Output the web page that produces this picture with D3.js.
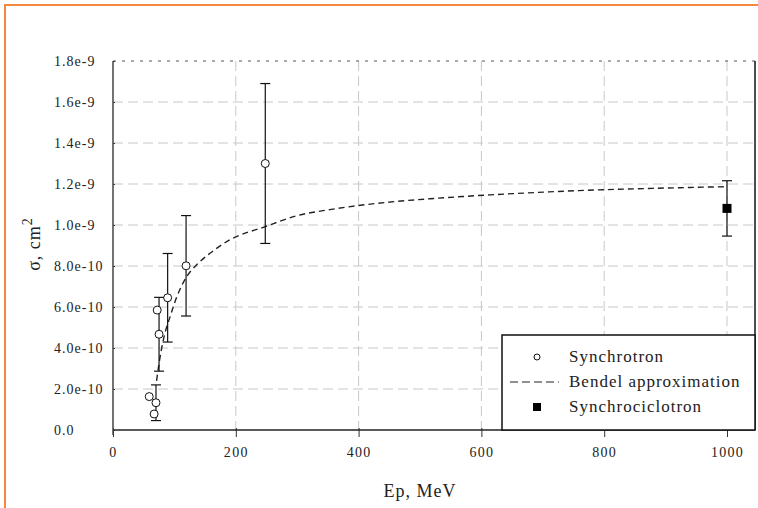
<!DOCTYPE html>
<html>
<head>
<meta charset="utf-8">
<script src="https://cdn.jsdelivr.net/npm/d3@7"></script>
<style>
	body { margin: 0; background: #fff; }
	text { font-family: "Liberation Serif", "DejaVu Serif", serif; fill: #222; }
</style>
</head>
<body>
<div id="canvas"></div>
<script>
// Synchrotron points (open circles), error = half bar height, null = no bar
const synchrotronE = [59, 67, 70, 72, 75, 89, 119, 248];
const synchrotronSigma = [1.63e-10, 0.78e-10, 1.33e-10, 5.85e-10, 4.67e-10, 6.45e-10, 8.01e-10, 1.30e-9];
const synchrotronErr = [null, null, 0.87e-10, null, 1.8e-10, 2.16e-10, 2.45e-10, 3.9e-10];

// Synchrociclotron point (filled square)
const synchrocycE = [1000];
const synchrocycSigma = [1.081e-9];
const synchrocycErr = [1.35e-10];

// Bendel approximation
const bendelE = [71, 75, 82, 93, 104, 120, 136, 158, 190, 248, 299, 353, 400, 462, 516, 570, 614, 652, 706, 798, 869, 923, 1000];
const bendelSigma = [0.24e-9, 0.325e-9, 0.44e-9, 0.553e-9, 0.65e-9, 0.748e-9, 0.805e-9, 0.862e-9, 0.927e-9, 0.992e-9, 1.045e-9, 1.075e-9, 1.095e-9, 1.115e-9, 1.128e-9, 1.139e-9, 1.147e-9, 1.153e-9, 1.161e-9, 1.172e-9, 1.178e-9, 1.182e-9, 1.187e-9];

const xTicks = [0, 200, 400, 600, 800, 1000];
const yTicks = [0, 2e-10, 4e-10, 6e-10, 8e-10, 1.0e-9, 1.2e-9, 1.4e-9, 1.6e-9, 1.8e-9];
const legendLabels = ["Synchrotron", "Bendel approximation", "Synchrociclotron"];

function drawChart() {

	// 1. Dimensions

	const width = 758;
	const height = 508;
	const left = 113, right = 755, top = 61, bottom = 430;
	const xEnd = 727;

	// 2. Canvas

	const svg = d3.select("#canvas")
		.append("svg")
		.attr("width", width)
		.attr("height", height);

	// orange page frame
	svg.append("path")
		.attr("d", `M5,${height} L5,5 L${width},5`)
		.attr("fill", "none")
		.attr("stroke", "#f5883f")
		.attr("stroke-width", 2);

	// 3. Scales

	const x = d3.scaleLinear().domain([0, 1000]).range([left, xEnd]);
	const y = d3.scaleLinear().domain([0, 1.8e-9]).range([bottom, top]);

	// 4. Grid

	const grid = svg.append("g");
	grid.selectAll(".hgrid")
		.data(yTicks.slice(1, -1))
		.enter().append("line")
		.attr("x1", left).attr("x2", right)
		.attr("y1", d => y(d)).attr("y2", d => y(d))
		.attr("stroke", "#c8c8c8")
		.attr("stroke-dasharray", "10,5");
	grid.selectAll(".vgrid")
		.data(xTicks.slice(1))
		.enter().append("line")
		.attr("y1", top).attr("y2", bottom)
		.attr("x1", d => x(d)).attr("x2", d => x(d))
		.attr("stroke", "#c8c8c8")
		.attr("stroke-dasharray", "10,5");

	// top edge at 1.8e-9 is dotted dark
	svg.append("line")
		.attr("x1", left).attr("x2", right)
		.attr("y1", y(1.8e-9)).attr("y2", y(1.8e-9))
		.attr("stroke", "#555")
		.attr("stroke-dasharray", "3,6");

	// right edge
	svg.append("line")
		.attr("x1", right).attr("x2", right)
		.attr("y1", top).attr("y2", bottom)
		.attr("stroke", "#111")
		.attr("stroke-width", 1.5);

	// 5. Axes

	const xAxis = d3.axisBottom(x)
		.tickValues(xTicks)
		.tickFormat(d3.format("d"))
		.tickSizeInner(7)
		.tickSizeOuter(0)
		.tickPadding(10);
	const gx = svg.append("g")
		.attr("transform", `translate(0,${bottom})`)
		.call(xAxis);
	gx.select(".domain").remove();
	gx.selectAll(".tick line").attr("y1", -2).attr("stroke", "#333");
	gx.selectAll(".tick text")
		.attr("font-family", "Liberation Serif")
		.attr("font-size", 14)
		.attr("letter-spacing", 1.3)
		.attr("fill", "#222");

	const yAxis = d3.axisLeft(y)
		.tickValues(yTicks)
		.tickFormat(d => d === 0 ? "0.0" : d3.format(".1e")(d))
		.tickSizeInner(6)
		.tickSizeOuter(0);
	const gy = svg.append("g")
		.attr("transform", `translate(${left},0)`)
		.call(yAxis);
	gy.select(".domain").remove();
	gy.selectAll(".tick line").attr("x2", 2).attr("stroke", "#333");
	gy.selectAll(".tick text")
		.attr("text-anchor", "start")
		.attr("x", 54 - left)
		.attr("font-family", "Liberation Serif")
		.attr("font-size", 14)
		.attr("letter-spacing", 1)
		.attr("fill", "#222");

	svg.append("line")
		.attr("x1", left).attr("x2", right)
		.attr("y1", bottom).attr("y2", bottom)
		.attr("stroke", "#222").attr("stroke-width", 1.5);
	svg.append("line")
		.attr("x1", left).attr("x2", left)
		.attr("y1", top).attr("y2", bottom + 5)
		.attr("stroke", "#444").attr("stroke-width", 1.5);

	// axis titles
	svg.append("text")
		.attr("x", (left + xEnd) / 2)
		.attr("y", 497)
		.attr("text-anchor", "middle")
		.attr("font-size", 18)
		.attr("letter-spacing", 1)
		.text("Ep, MeV");

	const yTitle = svg.append("text")
		.attr("transform", `translate(40,244) rotate(-90)`)
		.attr("text-anchor", "middle")
		.attr("font-size", 18)
		.attr("letter-spacing", 1);
	yTitle.append("tspan").text("σ, cm");
	yTitle.append("tspan").attr("dy", -8).attr("font-size", 14).text("2");

	// 6. Bendel curve

	const bendel = d3.zip(bendelE, bendelSigma);
	svg.append("path")
		.datum(bendel)
		.attr("fill", "none")
		.attr("stroke", "#222")
		.attr("stroke-width", 1.4)
		.attr("stroke-dasharray", "6,4")
		.attr("d", d3.line().x(d => x(d[0])).y(d => y(d[1])).curve(d3.curveMonotoneX));

	// 7. Error bars and points

	const errBars = (E, S, Err) => {
		const rows = E.map((e, i) => ({e, s: S[i], err: Err[i]})).filter(d => d.err != null);
		const g = svg.append("g").attr("stroke", "#111").attr("stroke-width", 1.2);
		rows.forEach(d => {
			g.append("line").attr("x1", x(d.e)).attr("x2", x(d.e))
				.attr("y1", y(d.s - d.err)).attr("y2", y(d.s + d.err));
			[d.s - d.err, d.s + d.err].forEach(v => {
				g.append("line").attr("x1", x(d.e) - 5).attr("x2", x(d.e) + 5)
					.attr("y1", y(v)).attr("y2", y(v));
			});
		});
	};
	errBars(synchrotronE, synchrotronSigma, synchrotronErr);
	errBars(synchrocycE, synchrocycSigma, synchrocycErr);

	svg.append("g")
		.selectAll("circle")
		.data(d3.zip(synchrotronE, synchrotronSigma))
		.enter().append("circle")
		.attr("cx", d => x(d[0]))
		.attr("cy", d => y(d[1]))
		.attr("r", 4)
		.attr("fill", "#fff")
		.attr("stroke", "#111")
		.attr("stroke-width", 1);

	svg.append("g")
		.selectAll("rect")
		.data(d3.zip(synchrocycE, synchrocycSigma))
		.enter().append("rect")
		.attr("x", d => x(d[0]) - 4.5)
		.attr("y", d => y(d[1]) - 4.5)
		.attr("width", 9)
		.attr("height", 9)
		.attr("fill", "#000");

	// 8. Legend

	const legend = svg.append("g").attr("transform", "translate(502,335)");
	legend.append("rect")
		.attr("width", right - 502)
		.attr("height", bottom - 335)
		.attr("fill", "#fff")
		.attr("stroke", "#111")
		.attr("stroke-width", 1.5);

	const rowY = [22, 47, 72];
	legend.append("circle")
		.attr("cx", 35).attr("cy", rowY[0])
		.attr("r", 3).attr("fill", "#fff").attr("stroke", "#111");
	legend.append("line")
		.attr("x1", 8).attr("x2", 57)
		.attr("y1", rowY[1]).attr("y2", rowY[1])
		.attr("stroke", "#222").attr("stroke-width", 1.2)
		.attr("stroke-dasharray", "8,4");
	legend.append("rect")
		.attr("x", 31).attr("y", rowY[2] - 4)
		.attr("width", 8).attr("height", 8)
		.attr("fill", "#000");

	legend.selectAll(".lab")
		.data(legendLabels)
		.enter().append("text")
		.attr("x", 67)
		.attr("y", (d, i) => rowY[i] + 5)
		.attr("font-size", 17)
		.attr("letter-spacing", 1)
		.text(d => d);
}

drawChart();
</script>
</body>
</html>
